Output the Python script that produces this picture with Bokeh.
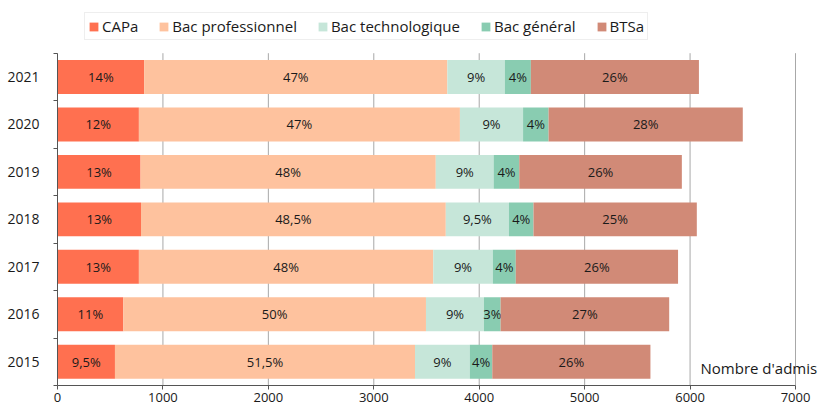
from bokeh.plotting import figure
from bokeh.models import (ColumnDataSource, Range1d, FixedTicker, Legend, LegendItem, Label)
from bokeh.core.properties import value
from bokeh.embed import file_html
from bokeh.resources import INLINE

years = ["2015", "2016", "2017", "2018", "2019", "2020", "2021"]
capa = [545, 624, 772, 792, 788, 772, 822]
bac_pro = [2846, 2871, 2792, 2891, 2800, 3045, 2876]
bac_techno = [520, 550, 565, 599, 549, 599, 545]
bac_gen = [213, 158, 218, 233, 243, 242, 247]
btsa = [1500, 1599, 1539, 1549, 1542, 1842, 1594]

series_names = ["CAPa", "Bac professionnel", "Bac technologique", "Bac général", "BTSa"]
pct_capa = ["9,5%", "11%", "13%", "13%", "13%", "12%", "14%"]
pct_bac_pro = ["51,5%", "50%", "48%", "48,5%", "48%", "47%", "47%"]
pct_bac_techno = ["9%", "9%", "9%", "9,5%", "9%", "9%", "9%"]
pct_bac_gen = ["4%", "3%", "4%", "4%", "4%", "4%", "4%"]
pct_btsa = ["26%", "27%", "26%", "25%", "26%", "28%", "26%"]

x_ticks = [0, 1000, 2000, 3000, 4000, 5000, 6000, 7000]
axis_title = "Nombre d'admis"

colors = ["#FF7050", "#FEC29E", "#C6E6D9", "#89CCB1", "#D18A77"]
FONT = "Open Sans"

series = [capa, bac_pro, bac_techno, bac_gen, btsa]
pcts = [pct_capa, pct_bac_pro, pct_bac_techno, pct_bac_gen, pct_btsa]

n = len(years)
ypos = [i + 0.5 for i in range(n)]
x_max = x_ticks[-1]

# frame extends above the bars (legend room) and right of 7000 (axis title room)
p = figure(width=819, height=410, output_backend="svg", toolbar_location=None,
           x_range=Range1d(0, x_max * 762 / 738), y_range=Range1d(0, n * 385 / 332.3),
           min_border_left=57, min_border_right=0, min_border_top=0, min_border_bottom=25)
p.outline_line_color = None
p.xgrid.visible = False
p.ygrid.visible = False

# vertical grid lines, limited to the bar area
p.segment(x0=x_ticks, x1=x_ticks, y0=[0] * len(x_ticks), y1=[n] * len(x_ticks),
          line_color="#a8a8a8", line_width=1)

left = [0.0] * n
renderers = []
for vals, col, labels in zip(series, colors, pcts):
    right = [l + v for l, v in zip(left, vals)]
    src = ColumnDataSource(dict(y=ypos, left=left, right=right,
                                cx=[(a + b) / 2 for a, b in zip(left, right)], lab=labels))
    r = p.hbar(y="y", left="left", right="right", height=0.715, source=src,
               fill_color=col, line_color=None)
    p.text(x="cx", y="y", text="lab", source=src, text_align="center",
           text_baseline="middle", text_font=value(FONT), text_font_size="13px",
           text_color="#1a1a1a")
    renderers.append(r)
    left = right

xa = p.xaxis[0]
xa.ticker = FixedTicker(ticks=x_ticks)
xa.bounds = (0, x_max)
xa.axis_line_color = "#555555"
xa.major_tick_line_color = "#555555"
xa.major_tick_out = 4
xa.major_tick_in = 0
xa.minor_tick_line_color = None
xa.major_label_standoff = 3
xa.major_label_text_font = FONT
xa.major_label_text_font_size = "13px"
xa.major_label_text_color = "#1a1a1a"

ya = p.yaxis[0]
ya.ticker = FixedTicker(ticks=ypos, minor_ticks=list(range(n + 1)))
ya.bounds = (0, n)
ya.major_label_overrides = {v: y for v, y in zip(ypos, years)}
ya.axis_line_color = "#555555"
ya.major_tick_line_color = None
ya.major_tick_out = 0
ya.major_tick_in = 0
ya.minor_tick_line_color = "#555555"
ya.minor_tick_out = 4
ya.minor_tick_in = 0
ya.major_label_standoff = 14
ya.major_label_text_font = FONT
ya.major_label_text_font_size = "14px"
ya.major_label_text_color = "#1a1a1a"

p.add_layout(Label(x=6099, y=0.36, text=axis_title, text_baseline="middle",
                   text_font=FONT, text_font_size="15px", text_color="#1a1a1a"))

legend = Legend(items=[LegendItem(label=nm, renderers=[r]) for nm, r in zip(series_names, renderers)],
                orientation="horizontal", location=(27, 345),
                glyph_width=11, glyph_height=11, label_standoff=3, spacing=20,
                padding=3, margin=0,
                label_text_font=FONT, label_text_font_size="15px", label_text_color="#1a1a1a",
                border_line_color="#dddddd", border_line_width=1.5)
p.add_layout(legend, "center")

open("out.html", "w").write(file_html(p, INLINE))
